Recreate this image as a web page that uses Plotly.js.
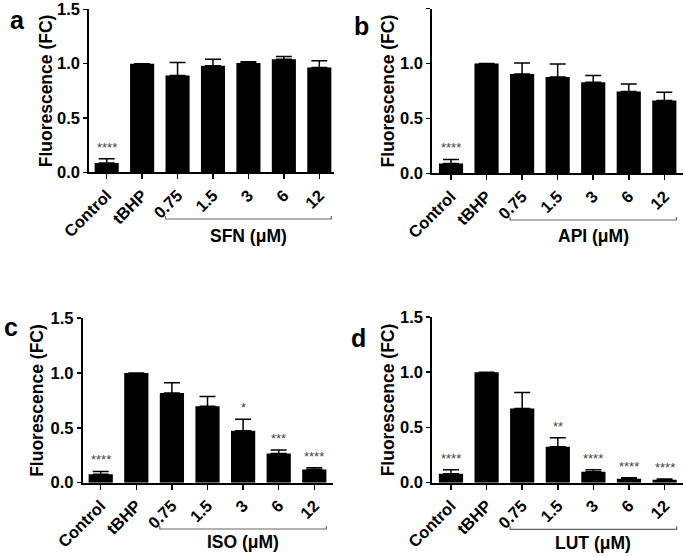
<!DOCTYPE html>
<html><head><meta charset="utf-8">
<script src="https://cdn.plot.ly/plotly-3.0.1.min.js"></script>
<style>html,body{margin:0;padding:0;background:#fff}</style>
</head><body><div id="chart" style="width:685px;height:557px"></div>
<script>
const categories = ["Control", "tBHP", "0.75", "1.5", "3", "6", "12"];
const yTicks = [0, 0.5, 1.0, 1.5];
const yTickText = ["0.0", "0.5", "1.0", "1.5"];

const sfnValues = [0.085, 1.0, 0.89, 0.98, 1.005, 1.04, 0.965];
const sfnErrors = [0.04, 0, 0.12, 0.06, 0.013, 0.025, 0.062];
const sfnStars  = ["****", "", "", "", "", "", ""];

const apiValues = [0.09, 1.0, 0.903, 0.876, 0.828, 0.744, 0.662];
const apiErrors = [0.036, 0, 0.10, 0.118, 0.063, 0.069, 0.075];
const apiStars  = ["****", "", "", "", "", "", ""];

const isoValues = [0.076, 1.0, 0.817, 0.696, 0.473, 0.265, 0.121];
const isoErrors = [0.027, 0, 0.093, 0.09, 0.105, 0.033, 0.015];
const isoStars  = ["****", "", "", "", "*", "***", "****"];

const lutValues = [0.081, 1.0, 0.672, 0.325, 0.099, 0.036, 0.027];
const lutErrors = [0.036, 0, 0.145, 0.082, 0.018, 0.009, 0.006];
const lutStars  = ["****", "", "", "**", "****", "****", "****"];

const panelLetters = ["a", "b", "c", "d"];
const groupLabels = ["SFN (\u03bcM)", "API (\u03bcM)", "ISO (\u03bcM)", "LUT (\u03bcM)"];
const yTitle = "Fluorescence (FC)";

const W = 685, H = 557;
const px = v => v / W;
const py = v => 1 - v / H;
const FONT = "Arial, 'Liberation Sans', sans-serif";

// layout geometry (pixels)
const geom = [
  {x0: 89.3, x1: 334, yTop: 9.3, yBot: 172.3, range: [-0.491, 6.415], brY: 219, lblY: 236, titleX: 45.5, letter: [8, 19.5]},
  {x0: 432.3, x1: 683.3, yTop: 8.5, yBot: 173.3, range: [-0.526, 6.534], brY: 220, lblY: 236, titleX: 387.5, letter: [352, 26]},
  {x0: 82.7, x1: 333, yTop: 318, yBot: 482.7, range: [-0.506, 6.525], brY: 529, lblY: 542, titleX: 37.5, letter: [2, 327]},
  {x0: 432.3, x1: 683, yTop: 317, yBot: 482.7, range: [-0.525, 6.517], brY: 529.3, lblY: 543, titleX: 387.5, letter: [349, 338]}
];

const series = [
  [sfnValues, sfnErrors, sfnStars],
  [apiValues, apiErrors, apiStars],
  [isoValues, isoErrors, isoStars],
  [lutValues, lutErrors, lutStars]
];

const data = [];
const layout = {
  width: W, height: H,
  margin: {l: 0, r: 0, t: 0, b: 0},
  paper_bgcolor: "#fff", plot_bgcolor: "#fff",
  showlegend: false,
  font: {family: FONT, color: "#000"},
  annotations: [], shapes: []
};

series.forEach((s, i) => {
  const g = geom[i];
  const n = i === 0 ? "" : String(i + 1);
  const [vals, errs, stars] = s;
  data.push({
    type: "bar", x: categories, y: vals,
    xaxis: "x" + n, yaxis: "y" + n,
    width: 0.68,
    marker: {color: "#000", line: {width: 0}},
    error_y: {type: "data", symmetric: false, array: errs, arrayminus: errs.map(() => 0),
              color: "#000", thickness: 1.5, width: 8},
    hoverinfo: "skip"
  });
  layout["xaxis" + n] = {
    domain: [px(g.x0), px(g.x1)], anchor: "y" + n,
    type: "category", range: g.range,
    showline: true, linecolor: "#000", linewidth: 2,
    ticks: "outside", ticklen: 5, tickwidth: 1.5, tickcolor: "#000",
    showgrid: false, zeroline: false,
    tickangle: -45,
    tickfont: {family: FONT, size: 16.5, weight: 700, color: "#000"},
    fixedrange: true
  };
  layout["yaxis" + n] = {
    domain: [py(g.yBot), py(g.yTop)], anchor: "x" + n,
    range: [0, 1.5],
    tickvals: yTicks, ticktext: yTickText,
    showline: true, linecolor: "#000", linewidth: 2,
    ticks: "outside", ticklen: 4, tickwidth: 1.5, tickcolor: "#000",
    showgrid: false, zeroline: false,
    tickfont: {family: FONT, size: 16.5, weight: 700, color: "#000"},
    fixedrange: true
  };
  // significance stars (x given as category index)
  vals.forEach((v, k) => {
    if (!stars[k]) return;
    layout.annotations.push({
      xref: "x" + n, yref: "y" + n, x: k, y: v + errs[k],
      text: stars[k], showarrow: false, yanchor: "bottom", yshift: 2,
      font: {family: FONT, size: 13, color: "#444"}
    });
  });
  // bracket under concentrations
  const a = 2 - 0.34, b = 6 + 0.34;
  const yb = py(g.brY), yt = py(g.brY - 3);
  layout.shapes.push({
    type: "path", xref: "x" + n, yref: "paper",
    path: `M ${a},${yt} L ${a},${yb} L ${b},${yb} L ${b},${yt}`,
    line: {color: "#666", width: 1.2}
  });
  layout.annotations.push({
    xref: "x" + n, yref: "paper", x: 4, y: py(g.lblY),
    text: groupLabels[i], showarrow: false, xanchor: "center", yanchor: "middle",
    font: {family: FONT, size: 17.5, weight: 700, color: "#000"}
  });
  // y-axis title
  layout.annotations.push({
    xref: "paper", yref: "paper", x: px(g.titleX), y: (py(g.yBot) + py(g.yTop)) / 2,
    text: yTitle, textangle: -90, showarrow: false, xanchor: "center", yanchor: "middle",
    font: {family: FONT, size: 17.5, weight: 700, color: "#000"}
  });
  // panel letter
  layout.annotations.push({
    xref: "paper", yref: "paper", x: px(g.letter[0]), y: py(g.letter[1]),
    text: panelLetters[i], showarrow: false, xanchor: "left", yanchor: "middle",
    font: {family: FONT, size: 25, weight: 700, color: "#000"}
  });
});

Plotly.newPlot("chart", data, layout, {displayModeBar: false, staticPlot: true});
</script></body></html>
